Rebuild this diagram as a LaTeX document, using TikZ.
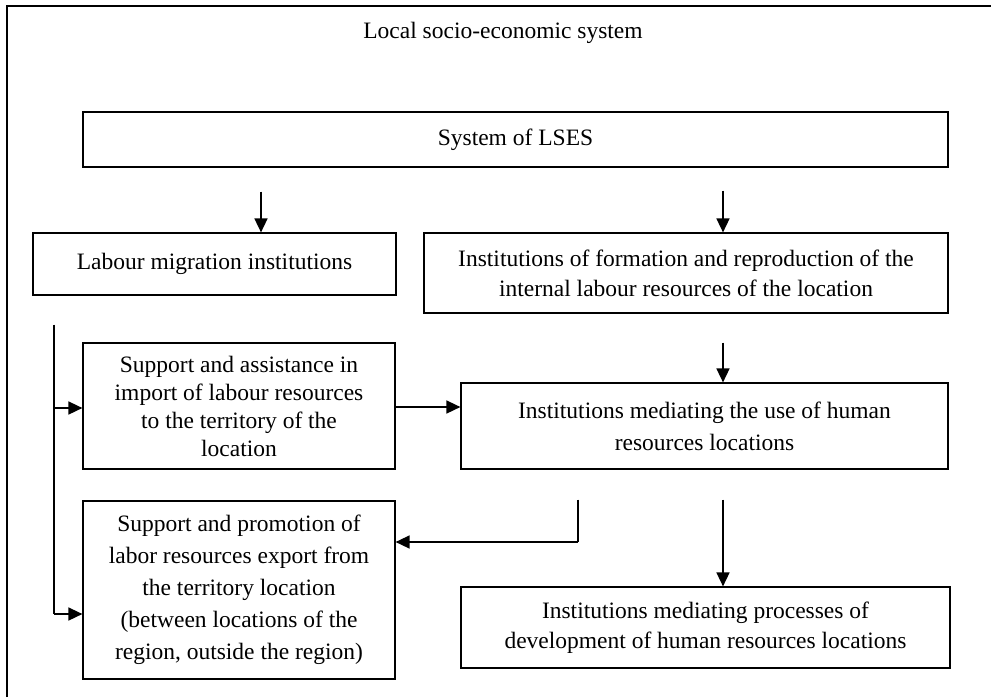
\documentclass[tikz,border=0pt]{standalone}
\usepackage{fontspec}
\setmainfont{Liberation Serif}
\usepackage{tikz}
\usetikzlibrary{arrows.meta, positioning, calc}

\tikzset{
  box/.style={draw, line width=1.2pt, align=center, inner sep=0pt},
  arr/.style={-{Triangle[length=14pt, width=13pt]}, line width=1.6pt},
  link/.style={line width=1.6pt}
}

\begin{document}
\begin{tikzpicture}[x=1pt, y=-1pt, font=\fontsize{23.5}{30}\selectfont]
\useasboundingbox (0,0) rectangle (991,697);

% Outer frame of the system
\draw[line width=1.3pt] (7,697) -- (7,6) -- (991,6);
\node (title) at (503,33) {Local socio-economic system};

% Top level
\node[box, minimum width=865pt, minimum height=55pt] (lses) at (515.5,139.5) {System of LSES};

% Two branches of institutions
\node[box, minimum width=363pt, minimum height=62pt] (migr) at (214.5,264) {Labour migration institutions};
\node[box, minimum width=524pt, minimum height=80pt] (form) at (686,273)
  {Institutions of formation and reproduction of the\\internal labour resources of the location};

% Import / export and mediating institutions
\node[box, minimum width=312pt, minimum height=126pt, font=\fontsize{23.5}{28}\selectfont] (imp) at (239,406)
  {Support and assistance in\\import of labour resources\\to the territory of the\\location};
\node[box, minimum width=487pt, minimum height=86pt, font=\fontsize{23.5}{32}\selectfont] (use) at (704.5,426)
  {Institutions mediating the use of human\\resources locations};
\node[box, minimum width=312pt, minimum height=178pt, font=\fontsize{23.5}{32}\selectfont] (exp) at (239,590)
  {Support and promotion of\\labor resources export from\\the territory location\\(between locations of the\\region, outside the region)};
\node[box, minimum width=489pt, minimum height=81pt] (dev) at (705.5,627.5)
  {Institutions mediating processes of\\development of human resources locations};

% Helper points for the connectors
\coordinate (lx) at (261,0);
\coordinate (rx) at (723,0);
\coordinate (bl) at (54,614);
\coordinate (ec) at (578,542);

% Connectors
\draw[arr, shorten <=24pt] (lses.south -| lx) -- (migr.north -| lx);
\draw[arr, shorten <=23pt] (lses.south -| rx) -- (form.north -| rx);
\draw[arr, shorten <=29pt] (form.south -| rx) -- (use.north -| rx);
\draw[arr] (imp.east |- 0,407) -- (use.west |- 0,407);
\draw[link, shorten <=30pt] (use.south -| ec) -- (ec);
\draw[arr] (ec) -- (ec -| exp.east);
\draw[arr, shorten <=30pt] (use.south -| rx) -- (dev.north -| rx);

% Bracket from labour migration institutions
\draw[link, shorten <=29pt] (migr.south -| bl) -- (bl);
\draw[arr] (bl |- 0,408) -- (imp.west |- 0,408);
\draw[arr] (bl) -- (bl -| exp.west);
\end{tikzpicture}
\end{document}
